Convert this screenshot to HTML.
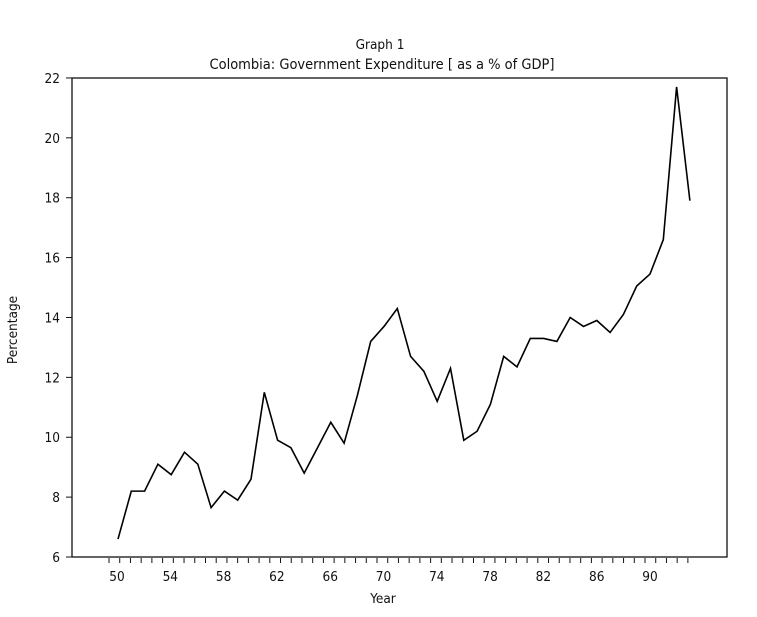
<!DOCTYPE html>
<html><head><meta charset="utf-8"><style>
html,body{margin:0;padding:0;background:#fff;}
svg text{font-family:"DejaVu Sans Condensed","Liberation Sans",sans-serif;fill:#111;}
</style></head><body>
<svg width="757" height="612" viewBox="0 0 757 612" id="chart">
<text x="380" y="49" font-size="13.5" text-anchor="middle">Graph 1</text>
<text x="382" y="69" font-size="14.5" text-anchor="middle">Colombia: Government Expenditure [ as a % of GDP]</text>
<text x="383" y="603" font-size="13.5" text-anchor="middle">Year</text>
<text transform="translate(17,330) rotate(-90)" font-size="13.5" text-anchor="middle">Percentage</text>
<rect x="72" y="78" width="655" height="479" fill="none" stroke="#111" stroke-width="1.3"/>
<g id="yaxis"></g>
<g id="xaxis"></g>
<polyline id="line" fill="none" stroke="#000" stroke-width="1.6" stroke-linejoin="miter"/>
</svg>
<script>
const years=[1950,1951,1952,1953,1954,1955,1956,1957,1958,1959,1960,1961,1962,1963,1964,1965,1966,1967,1968,1969,1970,1971,1972,1973,1974,1975,1976,1977,1978,1979,1980,1981,1982,1983,1984,1985,1986,1987,1988,1989,1990,1991,1992,1993];
const values=[6.6,8.2,8.2,9.1,8.75,9.5,9.1,7.65,8.2,7.9,8.6,11.5,9.9,9.65,8.8,9.65,10.5,9.8,11.4,13.2,13.7,14.3,12.7,12.2,11.2,12.3,9.9,10.2,11.1,12.7,12.35,13.3,13.3,13.2,14.0,13.7,13.9,13.5,14.1,15.05,15.45,16.6,21.7,17.9];
const yTicks=[6,8,10,12,14,16,18,20,22];
const xLabels=[50,54,58,62,66,70,74,78,82,86,90];
const NS="http://www.w3.org/2000/svg";
function xs(yr){return 118+(yr-1950)*13.3;}
function ys(v){return 557-(v-6)*29.94;}
const ya=document.getElementById('yaxis'),xa=document.getElementById('xaxis');
yTicks.forEach(t=>{
  const l=document.createElementNS(NS,'line');
  l.setAttribute('x1',66);l.setAttribute('x2',72);l.setAttribute('y1',ys(t));l.setAttribute('y2',ys(t));
  l.setAttribute('stroke','#111');
  
  
  ya.appendChild(l);
  const tx=document.createElementNS(NS,'text');
  tx.setAttribute('x',60);tx.setAttribute('y',ys(t)+5);tx.setAttribute('font-size','13.5');tx.setAttribute('text-anchor','end');
  tx.textContent=t;
  
  
  ya.appendChild(tx);
});
for(let i=0;i<=54;i++){
  const x=109+i*10.72;
  const l=document.createElementNS(NS,'line');
  l.setAttribute('x1',x);l.setAttribute('x2',x);l.setAttribute('y1',558);l.setAttribute('y2',563);
  l.setAttribute('stroke','#111');
  
  
  xa.appendChild(l);
}
xLabels.forEach((t,i)=>{
  const tx=document.createElementNS(NS,'text');
  tx.setAttribute('x',117+i*53.3);tx.setAttribute('y',581);tx.setAttribute('font-size','13.5');tx.setAttribute('text-anchor','middle');
  tx.textContent=t;
  
  
  xa.appendChild(tx);
});
document.getElementById('line').setAttribute('points',years.map((y,i)=>xs(y)+','+ys(values[i])).join(' '));
</script>
</body></html>
